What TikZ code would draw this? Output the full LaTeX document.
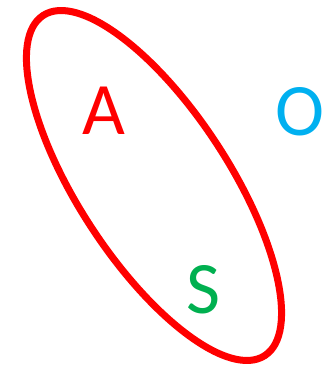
\documentclass[tikz,border=0pt]{standalone}
\usepackage{fontspec}
\setmainfont{Carlito}
\definecolor{ellred}{HTML}{FF0000}
\definecolor{ocyan}{HTML}{00B0F0}
\definecolor{sgreen}{HTML}{00B050}
\tikzset{
  letter/.style={inner sep=0pt, anchor=center, font=\fontsize{74}{74}\selectfont},
  ell/.style={draw=ellred, line width=7pt}
}
\begin{document}
\begin{tikzpicture}[x=1pt,y=1pt]
\useasboundingbox (0,0) rectangle (328,365);
\draw[ell] (154,179.5) ellipse [x radius=203, y radius=75.3, rotate=-56.9];
\node[letter, text=ellred] (a) at (104,254) {A};
\node[letter, text=ocyan] (o) at (299.5,253.5) {O};
\node[letter, text=sgreen] (s) at (203,75) {S};
\end{tikzpicture}
\end{document}
